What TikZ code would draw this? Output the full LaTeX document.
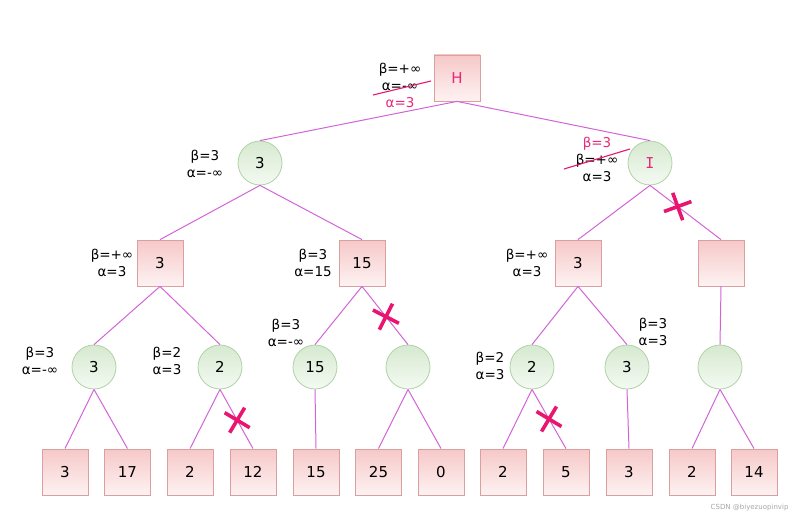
\documentclass[tikz,border=0pt]{standalone}
\usepackage{fontspec}
\setmainfont{DejaVu Sans}
\newfontfamily\serifI{DejaVu Sans Mono}
\usetikzlibrary{shapes.misc}
\definecolor{edgecol}{RGB}{210,100,216}
\definecolor{cutcol}{RGB}{232,22,110}
\definecolor{sqtop}{RGB}{246,200,200}
\definecolor{sqbot}{RGB}{254,242,242}
\definecolor{sqline}{RGB}{218,160,160}
\definecolor{ctop}{RGB}{214,233,208}
\definecolor{cbot}{RGB}{244,250,242}
\definecolor{cline}{RGB}{176,210,166}
\definecolor{pinktxt}{RGB}{232,40,120}
\begin{document}
\begin{tikzpicture}[x=1pt,y=-1pt,
  sq/.style={draw=sqline, line width=0.8pt, top color=sqtop, bottom color=sqbot,
    minimum size=46pt, inner sep=0pt, font=\fontsize{15}{17}\selectfont},
  circ/.style={circle, draw=cline, line width=0.8pt, top color=ctop, bottom color=cbot,
    minimum size=44pt, inner sep=0pt, font=\fontsize{15}{17}\selectfont},
  lbl/.style={align=center, font=\fontsize{13.5}{17}\selectfont},
  br/.style={draw=edgecol, line width=1pt},
  cut/.style={cross out, draw=cutcol, line width=3.6pt, minimum size=17pt, inner sep=0pt},
  strike/.style={draw=cutcol, line width=1.1pt}]
\useasboundingbox (0,0) rectangle (800,524);
% top levels
\node[sq, text=pinktxt] (H) at (457,78) {H};
\node[circ] (A) at (260,163) {3};
\node[circ, text=pinktxt] (I) at (650,163) {\serifI I};
\node[sq] (A1) at (160,263) {3};
\node[sq] (A2) at (362,263) {15};
\node[sq] (I1) at (578,263) {3};
\node[sq] (I2) at (721,263) {};
% circles above the leaves
\node[circ] (a11) at (94,367) {3};
\node[circ] (a12) at (220,367) {2};
\node[circ] (a21) at (315,367) {15};
\node[circ] (a22) at (408,367) {};
\node[circ] (i11) at (532,367) {2};
\node[circ] (i12) at (627,367) {3};
\node[circ] (i21) at (720,367) {};
% leaves
\node[sq] (l1) at (65,472) {3};
\node[sq] (l2) at (127.5,472) {17};
\node[sq] (l3) at (190,472) {2};
\node[sq] (l4) at (253,472) {12};
\node[sq] (l5) at (316,472) {15};
\node[sq] (l6) at (378.5,472) {25};
\node[sq] (l7) at (441,472) {0};
\node[sq] (l8) at (503,472) {2};
\node[sq] (l9) at (566,472) {5};
\node[sq] (l10) at (629,472) {3};
\node[sq] (l11) at (692,472) {2};
\node[sq] (l12) at (754,472) {14};
% branches
\draw[br] (H.south) -- (A.north) (H.south) -- (I.north);
\draw[br] (A.south) -- (A1.north) (A.south) -- (A2.north);
\draw[br] (I.south) -- (I1.north) (I.south) -- (I2.north);
\draw[br] (A1.south) -- (a11.north) (A1.south) -- (a12.north);
\draw[br] (A2.south) -- (a21.north) (A2.south) -- (a22.north);
\draw[br] (I1.south) -- (i11.north) (I1.south) -- (i12.north);
\draw[br] (I2.south) -- (i21.north);
\draw[br] (a11.south) -- (l1.north) (a11.south) -- (l2.north);
\draw[br] (a12.south) -- (l3.north) (a12.south) -- (l4.north);
\draw[br] (a21.south) -- (l5.north);
\draw[br] (a22.south) -- (l6.north) (a22.south) -- (l7.north);
\draw[br] (i11.south) -- (l8.north) (i11.south) -- (l9.north);
\draw[br] (i12.south) -- (l10.north);
\draw[br] (i21.south) -- (l11.north) (i21.south) -- (l12.north);
% cut-offs
\path (I.south) -- (I2.north) node[cut, pos=0.39, rotate=-25] (x1) {};
\path (A2.south) -- (a22.north) node[cut, pos=0.52, rotate=18] (x2) {};
\path (a12.south) -- (l4.north) node[cut, pos=0.52, rotate=14] (x3) {};
\path (i11.south) -- (l9.north) node[cut, pos=0.5, rotate=14] (x4) {};
% bounds
\node[lbl] (lH) at (400,85) {β=+∞\\α=-∞\\\textcolor{pinktxt}{α=3}};
\draw[strike] ([shift={(-27,10)}]lH.center) -- ([shift={(31,-4)}]lH.center);
\node[lbl] (lI) at (597,159) {\textcolor{pinktxt}{β=3}\\β=+∞\\α=3};
\draw[strike] ([shift={(-33,10)}]lI.center) -- ([shift={(33,-10)}]lI.center);
\node[lbl] (lA) at (205,164) {β=3\\α=-∞};
\node[lbl] (lA1) at (112,263) {β=+∞\\α=3};
\node[lbl] (lA2) at (313,263) {β=3\\α=15};
\node[lbl] (lI1) at (527,263) {β=+∞\\α=3};
\node[lbl] (la11) at (40,361) {β=3\\α=-∞};
\node[lbl] (la12) at (167,361) {β=2\\α=3};
\node[lbl] (la21) at (286,333) {β=3\\α=-∞};
\node[lbl] (li11) at (490,366) {β=2\\α=3};
\node[lbl] (li12) at (653,332) {β=3\\α=3};
\node[text=gray!70, font=\fontsize{7}{8}\selectfont, anchor=east] (wm) at (792,508) {CSDN @biyezuopinvip};
\end{tikzpicture}
\end{document}
